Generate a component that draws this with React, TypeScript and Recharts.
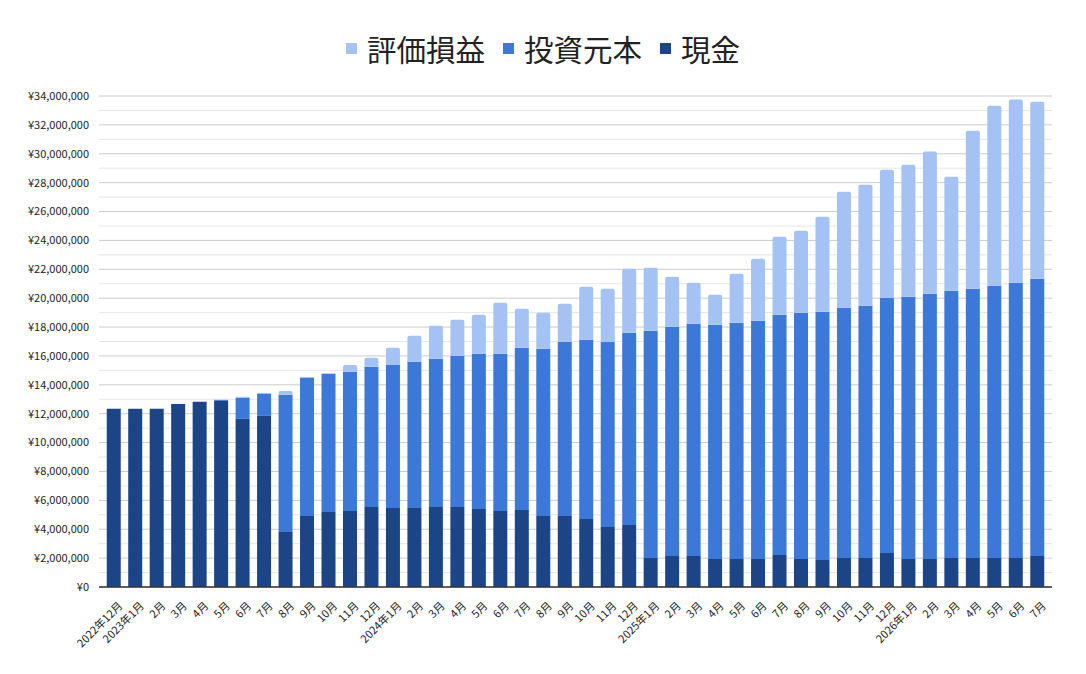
import { BarChart, Bar, XAxis, YAxis, CartesianGrid } from 'recharts'

const months = [
  '2022年12月', '2023年1月', '2月', '3月', '4月', '5月', '6月', '7月', '8月', '9月', '10月', '11月',
  '12月', '2024年1月', '2月', '3月', '4月', '5月', '6月', '7月', '8月', '9月', '10月', '11月',
  '12月', '2025年1月', '2月', '3月', '4月', '5月', '6月', '7月', '8月', '9月', '10月', '11月',
  '12月', '2026年1月', '2月', '3月', '4月', '5月', '6月', '7月',
]

// 現金
const cash = [
  12350000, 12350000, 12350000, 12680000, 12820000, 12890000, 11640000, 11850000, 3810000, 4920000, 5200000, 5270000,
  5540000, 5470000, 5470000, 5540000, 5540000, 5400000, 5270000, 5340000, 4920000, 4920000, 4710000, 4160000,
  4300000, 2010000, 2150000, 2150000, 1940000, 1940000, 1940000, 2220000, 1940000, 1870000, 2010000, 2010000,
  2360000, 1940000, 1940000, 2010000, 2010000, 2010000, 2010000, 2150000,
]

// 投資元本
const principal = [
  0, 0, 0, 0, 0, 70000, 1460000, 1520000, 9500000, 9560000, 9560000, 9630000,
  9710000, 9910000, 10120000, 10260000, 10470000, 10750000, 10880000, 11220000, 11570000, 12060000, 12410000, 12820000,
  13300000, 15730000, 15870000, 16080000, 16220000, 16360000, 16490000, 16630000, 17050000, 17190000, 17320000, 17460000,
  17670000, 18160000, 18360000, 18500000, 18640000, 18850000, 19060000, 19190000,
]

// 評価損益
const gain = [
  0, 0, 0, 0, 0, 0, 70000, 70000, 270000, 70000, 20000, 480000,
  620000, 1180000, 1800000, 2290000, 2490000, 2700000, 3530000, 2710000, 2500000, 2630000, 3670000, 3670000,
  4440000, 4370000, 3460000, 2840000, 2080000, 3390000, 4300000, 5400000, 5680000, 6580000, 8040000, 8390000,
  8870000, 9140000, 9850000, 7900000, 10950000, 12470000, 12680000, 12270000,
]

const majorTicks = [
  0, 2000000, 4000000, 6000000, 8000000, 10000000, 12000000, 14000000, 16000000,
  18000000, 20000000, 22000000, 24000000, 26000000, 28000000, 30000000, 32000000, 34000000,
]
const minorTicks = majorTicks.slice(0, -1).map((v) => v + 1000000)

const series = [
  { key: 'gain', name: '評価損益', color: '#a4c2f4' },
  { key: 'principal', name: '投資元本', color: '#3c78d8' },
  { key: 'cash', name: '現金', color: '#1c4587' },
]

const data = months.map((m, i) => ({
  month: m,
  cash: cash[i],
  principal: principal[i],
  gain: gain[i],
}))

const FONT = '"Noto Sans CJK JP", "Noto Sans", sans-serif'

const yen = (v: number) => '¥' + v.toLocaleString('en-US')

function MonthTick({ x, y, payload }: any) {
  return (
    <g transform={`translate(${x + 6},${y + 8})`}>
      <text
        transform="rotate(-45)"
        textAnchor="end"
        dominantBaseline="central"
        fontSize={11}
        fill="#222"
        fontFamily={FONT}
      >
        {payload.value}
      </text>
    </g>
  )
}

export default function App() {
  return (
    <div style={{ position: 'relative', width: 1070, height: 660, fontFamily: FONT }}>
      <div
        style={{
          position: 'absolute',
          top: 19,
          left: 0,
          width: 1070,
          display: 'flex',
          justifyContent: 'center',
          alignItems: 'center',
          gap: 18,
          fontSize: 29.5,
          color: '#222',
        }}
      >
        {series.map((s) => (
          <div key={s.key} style={{ display: 'flex', alignItems: 'center' }}>
            <span style={{ display: 'inline-block', width: 11, height: 11, background: s.color, marginRight: 10 }} />
            <span>{s.name}</span>
          </div>
        ))}
      </div>
      <BarChart
        width={1070}
        height={660}
        data={data}
        margin={{ top: 88, right: 26, left: 0, bottom: 6 }}
        barCategoryGap="17.4%"
      >
        <CartesianGrid vertical={false} horizontalValues={minorTicks} stroke="#e6e6e6" />
        <CartesianGrid vertical={false} horizontalValues={majorTicks} stroke="#cccccc" />
        <XAxis
          dataKey="month"
          interval={0}
          tickLine={false}
          padding={{ left: 4, right: 4 }}
          axisLine={{ stroke: '#333', strokeWidth: 1.3 }}
          tick={<MonthTick />}
          height={75}
        />
        <YAxis
          width={91}
          domain={[0, 34000000]}
          ticks={majorTicks}
          tickFormatter={yen}
          axisLine={false}
          tickLine={false}
          tickMargin={4}
          tick={{ fontSize: 11, fill: '#222', fontFamily: FONT }}
        />
        <Bar dataKey="cash" name="現金" stackId="a" fill="#1c4587" isAnimationActive={false} />
        <Bar dataKey="principal" name="投資元本" stackId="a" fill="#3c78d8" isAnimationActive={false} />
        <Bar dataKey="gain" name="評価損益" stackId="a" fill="#a4c2f4" radius={[2, 2, 0, 0]} isAnimationActive={false} />
      </BarChart>
    </div>
  )
}
